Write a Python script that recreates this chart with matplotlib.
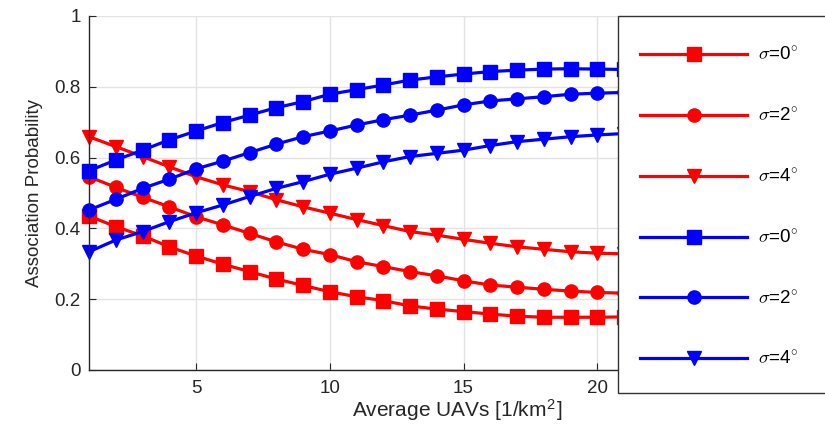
import matplotlib
matplotlib.use("Agg")
import matplotlib.pyplot as plt
from matplotlib.patches import Rectangle

plt.rcParams['font.family'] = ['Liberation Sans', 'DejaVu Sans']
plt.rcParams['mathtext.fontset'] = 'cm'

x = list(range(1, 22))

red_s0 = [0.435, 0.405, 0.379, 0.348, 0.322, 0.299, 0.278, 0.257, 0.239, 0.221, 0.207,
          0.196, 0.181, 0.172, 0.165, 0.158, 0.152, 0.149, 0.149, 0.149, 0.150]
red_s2 = [0.546, 0.516, 0.488, 0.461, 0.433, 0.410, 0.386, 0.362, 0.341, 0.326, 0.306,
          0.292, 0.278, 0.266, 0.252, 0.240, 0.234, 0.228, 0.223, 0.219, 0.217]
red_s4 = [0.659, 0.631, 0.603, 0.574, 0.546, 0.523, 0.504, 0.481, 0.461, 0.443, 0.425,
          0.408, 0.391, 0.381, 0.369, 0.358, 0.348, 0.341, 0.334, 0.330, 0.328]
blue_s0 = [0.563, 0.593, 0.621, 0.650, 0.675, 0.699, 0.720, 0.741, 0.758, 0.779, 0.792,
           0.805, 0.819, 0.828, 0.836, 0.843, 0.847, 0.850, 0.851, 0.850, 0.849]
blue_s2 = [0.452, 0.482, 0.513, 0.539, 0.568, 0.590, 0.614, 0.638, 0.659, 0.675, 0.692,
           0.707, 0.720, 0.734, 0.749, 0.760, 0.766, 0.772, 0.779, 0.782, 0.784]
blue_s4 = [0.334, 0.367, 0.391, 0.419, 0.444, 0.466, 0.490, 0.513, 0.532, 0.553, 0.570,
           0.588, 0.603, 0.612, 0.621, 0.634, 0.645, 0.652, 0.659, 0.664, 0.668]

labels = [r'$\sigma$=0$^{\circ}$', r'$\sigma$=2$^{\circ}$', r'$\sigma$=4$^{\circ}$'] * 2
series = [red_s0, red_s2, red_s4, blue_s0, blue_s2, blue_s4]
colors = ['#ff0000'] * 3 + ['#0000ff'] * 3
markers = ['s', 'o', 'v'] * 2

xticks = [5, 10, 15, 20]
yticks = [0, 0.2, 0.4, 0.6, 0.8, 1]
yticklabels = ['0', '0.2', '0.4', '0.6', '0.8', '1']

fig = plt.figure(figsize=(8.25, 4.28), dpi=100)
W, H = 825, 428
ax = fig.add_axes([89 / W, (428 - 370) / H, 1 - 89 / W, (370 - 16) / H])

handles = []
for ys, c, m, lab in zip(series, colors, markers, labels):
    h, = ax.plot(x, ys, color=c, marker=m, lw=2.3, markersize=9.5, label=lab,
                 clip_on=False)
    handles.append(h)

unit = (597.3 - 89) / 19
ax.set_xlim(1, 1 + (W - 89) / unit)
ax.set_ylim(0, 1)
ax.set_xticks(xticks)
ax.set_yticks(yticks)
ax.set_yticklabels(yticklabels)
ax.grid(True, color='#e3e3e3', lw=1)
ax.set_axisbelow(True)
for s in ['top', 'right']:
    ax.spines[s].set_visible(False)
for s in ['left', 'bottom']:
    ax.spines[s].set_color('#262626')
    ax.spines[s].set_linewidth(1.0)
ax.tick_params(direction='in', length=5, colors='#262626', labelsize=13.5, pad=6)
ax.tick_params(axis='x', pad=7)

ax.set_xlabel(r'Average UAVs [1/km$^{\mathregular{2}}$]', fontsize=15, color='#262626', labelpad=1)
ax.set_ylabel('Association Probability', fontsize=13.5, color='#262626', labelpad=8)

rect = Rectangle((618 / W, (428 - 393) / H), (W - 618 + 10) / W, (393 - 16) / H,
                 transform=fig.transFigure, facecolor='white', edgecolor='#333333',
                 lw=1.0, zorder=2)
fig.add_artist(rect)

leg = fig.legend(handles=handles, labels=labels, loc='upper left',
                 bbox_to_anchor=(631 / W, 1 - 37 / H), frameon=False,
                 fontsize=13.5, handlelength=5.7, handletextpad=0.55,
                 labelspacing=2.26, borderpad=0)
leg.set_zorder(3)

fig.savefig('out.png', dpi=100)
